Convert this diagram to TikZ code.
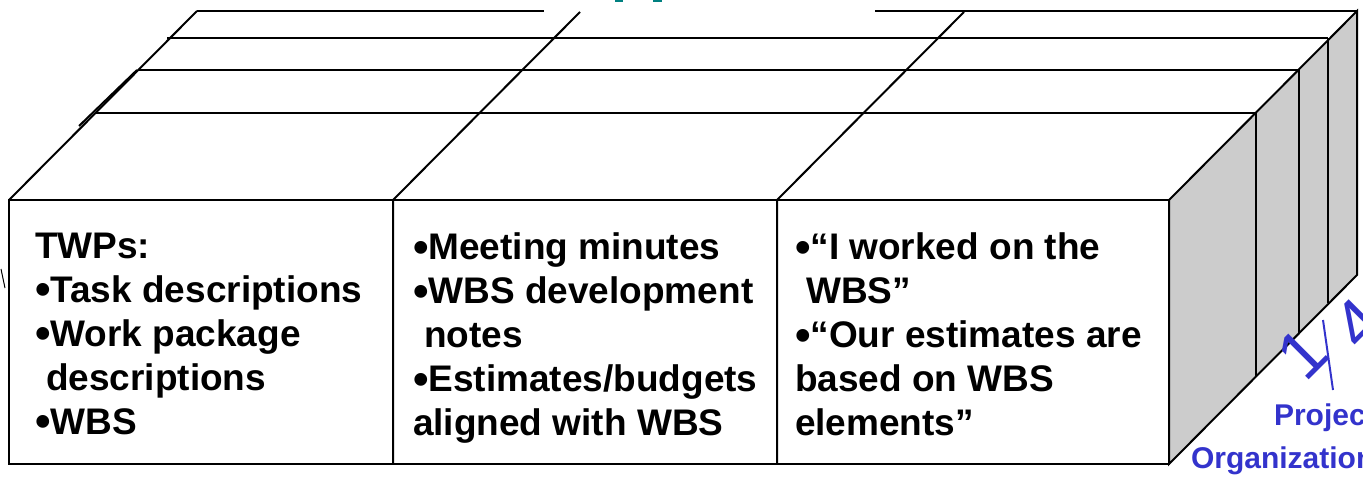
\documentclass[tikz,border=0pt]{standalone}
\usepackage{fontspec}
\setmainfont{Liberation Sans}
\usepackage{xcolor}
\usetikzlibrary{positioning}
\definecolor{orgblue}{RGB}{51,51,204}
\definecolor{titleteal}{RGB}{0,128,128}
\definecolor{sidegray}{RGB}{204,204,204}
\newcommand{\blt}{\raisebox{-0.06em}{\scalebox{1.2}{•}}}

\begin{document}
\begin{tikzpicture}[x=0.5pt,y=-0.5pt,line width=1pt,
  colbox/.style={anchor=north west,inner sep=0pt,align=left,font=\fontsize{18.5}{22}\selectfont\bfseries},
  orgtext/.style={anchor=base west,inner sep=0pt,text=orgblue,font=\fontsize{15}{18}\selectfont\bfseries},
  fracdigit/.style={inner sep=0pt,rotate=45,text=orgblue,font=\fontsize{34}{38}\selectfont}]
  \useasboundingbox (0,0) rectangle (1363,476);
  \fill[white] (0,0) rectangle (1363,476);
  % side of the stack
  \draw[fill=sidegray] (1169,200)--(1357,11)--(1357,275)--(1169,464)--cycle;
  \foreach \y/\xl/\xr/\yb in {113/96/1256/376,70/139/1299/334,38/167/1328/303}{
    \draw (\xl,\y)--(\xr,\y);
    \draw (\xr,\y)--(\xr,\yb);
  }
  % top edge (broken by the title)
  \draw (197,11)--(544,11);
  \draw (875,11)--(1357,11);
  \draw (9,200)--(197,11);
  \draw (79,126)--(137,70);
  % front face and column dividers
  \draw (9,200) rectangle (1169,464);
  \foreach \x in {393,777}{\draw (\x,464)--(\x,200)--({\x+187},12);}
  % cut-off bits at the borders
  \fill[titleteal] (615,0) rectangle (623,2);
  \fill[titleteal] (653,0) rectangle (662,2);
  \draw[line width=0.5pt] (1,269)--(5,288);
  \node[colbox] (twps) at (34,232) {TWPs:\\\blt Task descriptions\\\blt Work package\\\hspace*{.3em}descriptions\\\blt WBS};
  \node[colbox] (minutes) at (412,232) {\blt Meeting minutes\\\blt WBS development\\\hspace*{.3em}notes\\\blt Estimates/budgets\\aligned with WBS};
  \node[colbox] (quotes) at (794,232) {\blt“I worked on the\\\hspace*{.3em}WBS”\\\blt“Our estimates are\\based on WBS\\elements”};
  % label at the corner
  \node[fracdigit] (one) at (1302,354) {1};
  \node[fracdigit] (four) at (1358,324) {4};
  \draw[orgblue] (1323,320)--(1333,390);
  \node[orgtext] (project) at (1273,425) {Project};
  \node[orgtext] (organization) at (1190,468) {Organization};
\end{tikzpicture}
\end{document}
